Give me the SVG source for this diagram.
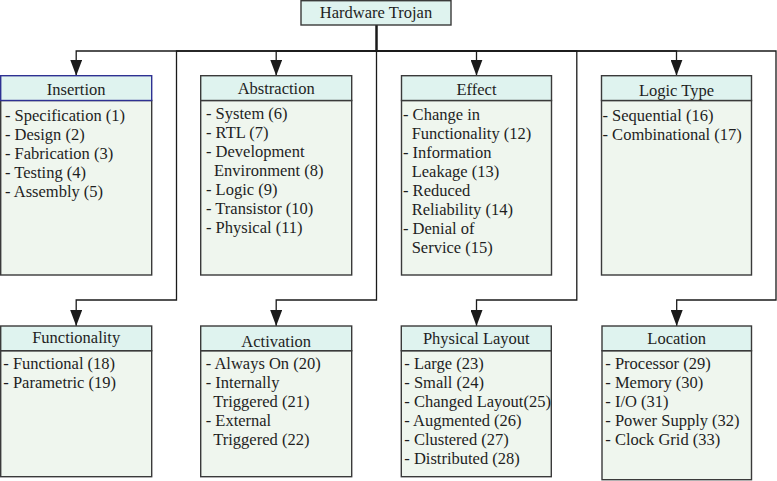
<svg xmlns="http://www.w3.org/2000/svg" width="777" height="481" viewBox="0 0 777 481">
<style>
.hd{fill:#dff3ef;stroke:#3a3a3a;stroke-width:1.4}
.bd{fill:#eff6ee;stroke:#3a3a3a;stroke-width:1.4}
.blue{stroke:#2e3192}
text{font-family:'Liberation Serif','Times New Roman',serif;font-size:16.5px;fill:#1e1e1e}
.h{text-anchor:middle}
.c{fill:none;stroke:#1a1a1a;stroke-width:1.3}
</style>
<defs>
<marker id="arr" markerUnits="userSpaceOnUse" markerWidth="16" markerHeight="12" refX="16" refY="6" orient="auto">
<path d="M0,0 L16,6 L0,12 z" fill="#1a1a1a"/>
</marker>
</defs>
<rect width="777" height="481" fill="#fff"/>
<g id="connectors">
<path class="c" d="M376.5,25 V51 H76.2 V75.7" marker-end="url(#arr)"/>
<path class="c" d="M376.5,25 V51 H276.2 V75.7" marker-end="url(#arr)"/>
<path class="c" d="M376.5,25 V51 H476.5 V75.7" marker-end="url(#arr)"/>
<path class="c" d="M376.5,25 V51 H676.5 V75.7" marker-end="url(#arr)"/>
<path class="c" d="M376.5,25 V51 H176.5 V300 H76.2 V326" marker-end="url(#arr)"/>
<path class="c" d="M376.5,25 V300 H276.2 V326" marker-end="url(#arr)"/>
<path class="c" d="M376.5,25 V51 H576.8 V300 H476.5 V326" marker-end="url(#arr)"/>
<path class="c" d="M376.5,25 V51 H776 V300 H676.7 V326" marker-end="url(#arr)"/>
</g>
<g id="root">
<rect class="hd" x="301" y="0.7" width="150" height="24.3"/>
<text class="h" x="376" y="18">Hardware Trojan</text>
</g>
<g id="insertion">
<rect class="bd" x="0.7" y="100.5" width="151" height="174.5"/>
<rect class="hd blue" x="0.7" y="75.7" width="151" height="24.8"/>
<text class="h" x="76.2" y="95">Insertion</text>
<text x="5" y="120.7">- Specification (1)</text>
<text x="5" y="139.7">- Design (2)</text>
<text x="5" y="158.7">- Fabrication (3)</text>
<text x="5" y="177.7">- Testing (4)</text>
<text x="5" y="196.7">- Assembly (5)</text>
</g>
<g id="abstraction">
<rect class="bd" x="200.7" y="100.5" width="151" height="174.5"/>
<rect class="hd" x="200.7" y="75.7" width="151" height="24.8"/>
<text class="h" x="276.2" y="93.5">Abstraction</text>
<text x="206" y="119.3">- System (6)</text>
<text x="206" y="138.3">- RTL (7)</text>
<text x="206" y="157.3">- Development</text>
<text x="214" y="176.3">Environment (8)</text>
<text x="206" y="195.3">- Logic (9)</text>
<text x="206" y="214.3">- Transistor (10)</text>
<text x="206" y="233.3">- Physical (11)</text>
</g>
<g id="effect">
<rect class="bd" x="401.5" y="100.5" width="150" height="174.5"/>
<rect class="hd" x="401.5" y="75.7" width="150" height="24.8"/>
<text class="h" x="476.5" y="95">Effect</text>
<text x="403" y="120">- Change in</text>
<text x="411.7" y="139">Functionality (12)</text>
<text x="403" y="158">- Information</text>
<text x="411.7" y="177">Leakage (13)</text>
<text x="403" y="196">- Reduced</text>
<text x="411.7" y="215">Reliability (14)</text>
<text x="403" y="234">- Denial of</text>
<text x="411.7" y="253">Service (15)</text>
</g>
<g id="logictype">
<rect class="bd" x="601.5" y="100.5" width="150" height="174.5"/>
<rect class="hd" x="601.5" y="75.7" width="150" height="24.8"/>
<text class="h" x="676.5" y="96">Logic Type</text>
<text x="602.5" y="120.5">- Sequential (16)</text>
<text x="602.5" y="139.5">- Combinational (17)</text>
</g>
<g id="functionality">
<rect class="bd" x="0.7" y="350.7" width="151" height="126"/>
<rect class="hd" x="0.7" y="326" width="151" height="24.7"/>
<text class="h" x="76.2" y="343">Functionality</text>
<text x="3.3" y="369.3">- Functional (18)</text>
<text x="3.3" y="388.3">- Parametric (19)</text>
</g>
<g id="activation">
<rect class="bd" x="200.7" y="350.7" width="151" height="126"/>
<rect class="hd" x="200.7" y="326" width="151" height="24.7"/>
<text class="h" x="276.2" y="346.5">Activation</text>
<text x="205.7" y="369.3">- Always On (20)</text>
<text x="205.7" y="388.3">- Internally</text>
<text x="213.3" y="407.3">Triggered (21)</text>
<text x="205.7" y="426.3">- External</text>
<text x="213.3" y="445.3">Triggered (22)</text>
</g>
<g id="physicallayout">
<rect class="bd" x="401.3" y="350.7" width="150" height="126"/>
<rect class="hd" x="401.3" y="326" width="150" height="24.7"/>
<text class="h" x="476.3" y="343.5">Physical Layout</text>
<text x="404.3" y="369.3">- Large (23)</text>
<text x="404.3" y="388.3">- Small (24)</text>
<text x="404.3" y="407.3">- Changed Layout(25)</text>
<text x="404.3" y="426.3">- Augmented (26)</text>
<text x="404.3" y="445.3">- Clustered (27)</text>
<text x="404.3" y="464.3">- Distributed (28)</text>
</g>
<g id="location">
<rect class="bd" x="602" y="350.7" width="149.5" height="129"/>
<rect class="hd" x="602" y="326" width="149.5" height="24.7"/>
<text class="h" x="676.7" y="344">Location</text>
<text x="605.3" y="369.3">- Processor (29)</text>
<text x="605.3" y="388.3">- Memory (30)</text>
<text x="605.3" y="407.3">- I/O (31)</text>
<text x="605.3" y="426.3">- Power Supply (32)</text>
<text x="605.3" y="445.3">- Clock Grid (33)</text>
</g>
</svg>
